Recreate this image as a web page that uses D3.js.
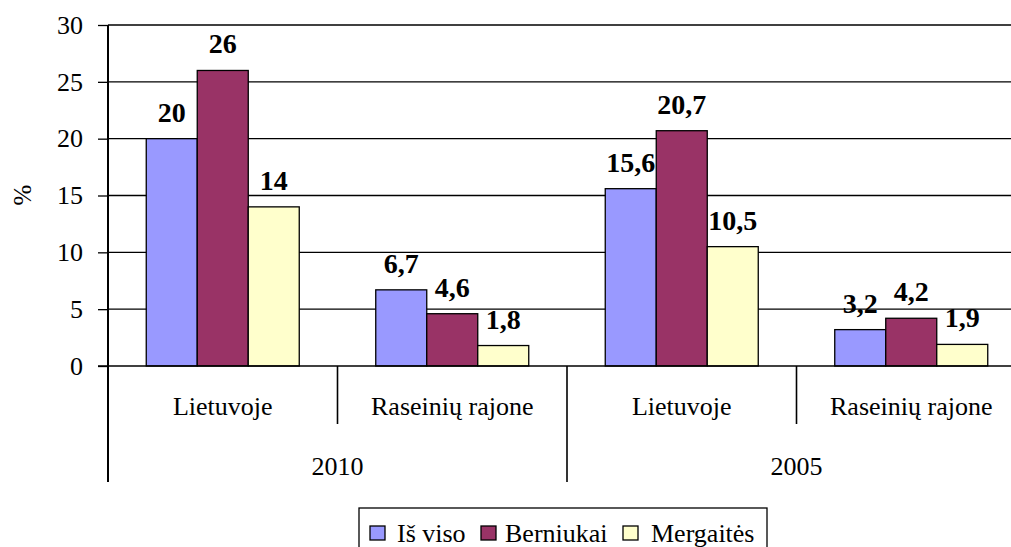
<!DOCTYPE html>
<html>
<head>
<meta charset="utf-8">
<script src="https://cdn.jsdelivr.net/npm/d3@7"></script>
<style>
  body { margin: 0; background: #fff; }
  svg text { font-family: "Liberation Serif", serif !important; }
</style>
</head>
<body>
<script>
// data
const years = ["2010", "2005"];
const places = ["Lietuvoje", "Raseinių rajone"];
const series = ["Iš viso", "Berniukai", "Mergaitės"];
const isViso = [20, 6.7, 15.6, 3.2];
const berniukai = [26, 4.6, 20.7, 4.2];
const mergaites = [14, 1.8, 10.5, 1.9];
const yTicks = [0, 5, 10, 15, 20, 25, 30];

const colors = ["#9999FF", "#993366", "#FFFFCC"];
const values = [isViso, berniukai, mergaites];

const W = 1011, H = 547;
const plot = { left: 108, right: 1026, top: 25, bottom: 366 };

const groups = [];
years.forEach(yr => places.forEach(p => groups.push(yr + "|" + p)));

const svg = d3.select("body").append("svg")
  .attr("width", W)
  .attr("height", H)
  .style("display", "block");

const x0 = d3.scaleBand().domain(groups).range([plot.left, plot.right]).padding(0);
const bw = x0.bandwidth();
// Excel gap width 150%: bars take 3/(3+1.5) of the band
const gap = bw * 1.5 / 4.5 / 2;
const x1 = d3.scaleBand().domain(series).range([gap, bw - gap]).padding(0);

const y = d3.scaleLinear().domain([0, 30]).range([plot.bottom, plot.top]);

function addText(sel, size) {
  return sel.append("text")
    .attr("font-family", "Liberation Serif")
    .attr("font-size", size)
    .attr("fill", "#000");
}

// gridlines
svg.append("g")
  .selectAll("line")
  .data(yTicks.filter(d => d > 0))
  .enter()
  .append("line")
  .attr("x1", plot.left).attr("x2", W)
  .attr("y1", d => y(d)).attr("y2", d => y(d))
  .attr("stroke", "#000")
  .attr("stroke-width", 1.3);

// bars
groups.forEach((g, gi) => {
  series.forEach((s, si) => {
    const v = values[si][gi];
    svg.append("rect")
      .attr("x", x0(g) + x1(s))
      .attr("y", y(v))
      .attr("width", x1.bandwidth())
      .attr("height", y(0) - y(v))
      .attr("fill", colors[si])
      .attr("stroke", "#000")
      .attr("stroke-width", 1.3);
    addText(svg, 28)
      .attr("x", x0(g) + x1(s) + x1.bandwidth() / 2)
      .attr("y", y(v) - 17)
      .attr("text-anchor", "middle")
      .attr("font-weight", "bold")
      .text(String(v).replace(".", ","));
  });
});

// y axis
const yAxis = d3.axisLeft(y).tickValues(yTicks).tickSize(10).tickPadding(15);
const ya = svg.append("g")
  .attr("transform", `translate(${plot.left},0)`)
  .call(yAxis)
  .attr("font-family", "Liberation Serif")
  .attr("font-size", 26);
ya.select(".domain").remove();
ya.selectAll(".tick line").attr("stroke", "#000").attr("stroke-width", 1.3);
ya.selectAll(".tick text").attr("fill", "#000");

svg.append("line")
  .attr("x1", plot.left).attr("x2", plot.left)
  .attr("y1", plot.top).attr("y2", 482)
  .attr("stroke", "#000").attr("stroke-width", 2);

// x axis baseline
svg.append("line")
  .attr("x1", plot.left - 10).attr("x2", W)
  .attr("y1", y(0)).attr("y2", y(0))
  .attr("stroke", "#000").attr("stroke-width", 1.6);

// first level: places
groups.forEach((g, gi) => {
  addText(svg, 26)
    .attr("x", x0(g) + bw / 2)
    .attr("y", 415)
    .attr("text-anchor", "middle")
    .text(g.split("|")[1]);
  if (gi % 2 === 1) return;
  svg.append("line")
    .attr("x1", x0(g) + bw).attr("x2", x0(g) + bw)
    .attr("y1", y(0)).attr("y2", 424)
    .attr("stroke", "#000").attr("stroke-width", 1.6);
});

// second level: years
years.forEach(yr => {
  const x = x0(yr + "|" + places[0]);
  addText(svg, 26)
    .attr("x", x + bw)
    .attr("y", 475)
    .attr("text-anchor", "middle")
    .text(yr);
  svg.append("line")
    .attr("x1", x + 2 * bw).attr("x2", x + 2 * bw)
    .attr("y1", y(0)).attr("y2", 482)
    .attr("stroke", "#000").attr("stroke-width", 1.6);
});

// y title
addText(svg, 25)
  .attr("transform", "translate(31,195)rotate(-90)")
  .attr("text-anchor", "middle")
  .text("%");

// legend
const legend = svg.append("g");
legend.append("rect")
  .attr("x", 359).attr("y", 508)
  .attr("width", 408).attr("height", 50)
  .attr("fill", "#fff")
  .attr("stroke", "#000").attr("stroke-width", 1.3);
const legX = [370, 481, 623];
const legTextX = [397, 505, 651];
series.forEach((s, i) => {
  legend.append("rect")
    .attr("x", legX[i]).attr("y", 526)
    .attr("width", 15).attr("height", 14)
    .attr("fill", colors[i])
    .attr("stroke", "#000").attr("stroke-width", 1.3);
  addText(legend, 26)
    .attr("x", legTextX[i]).attr("y", 542)
    .text(s);
});
</script>
</body>
</html>
